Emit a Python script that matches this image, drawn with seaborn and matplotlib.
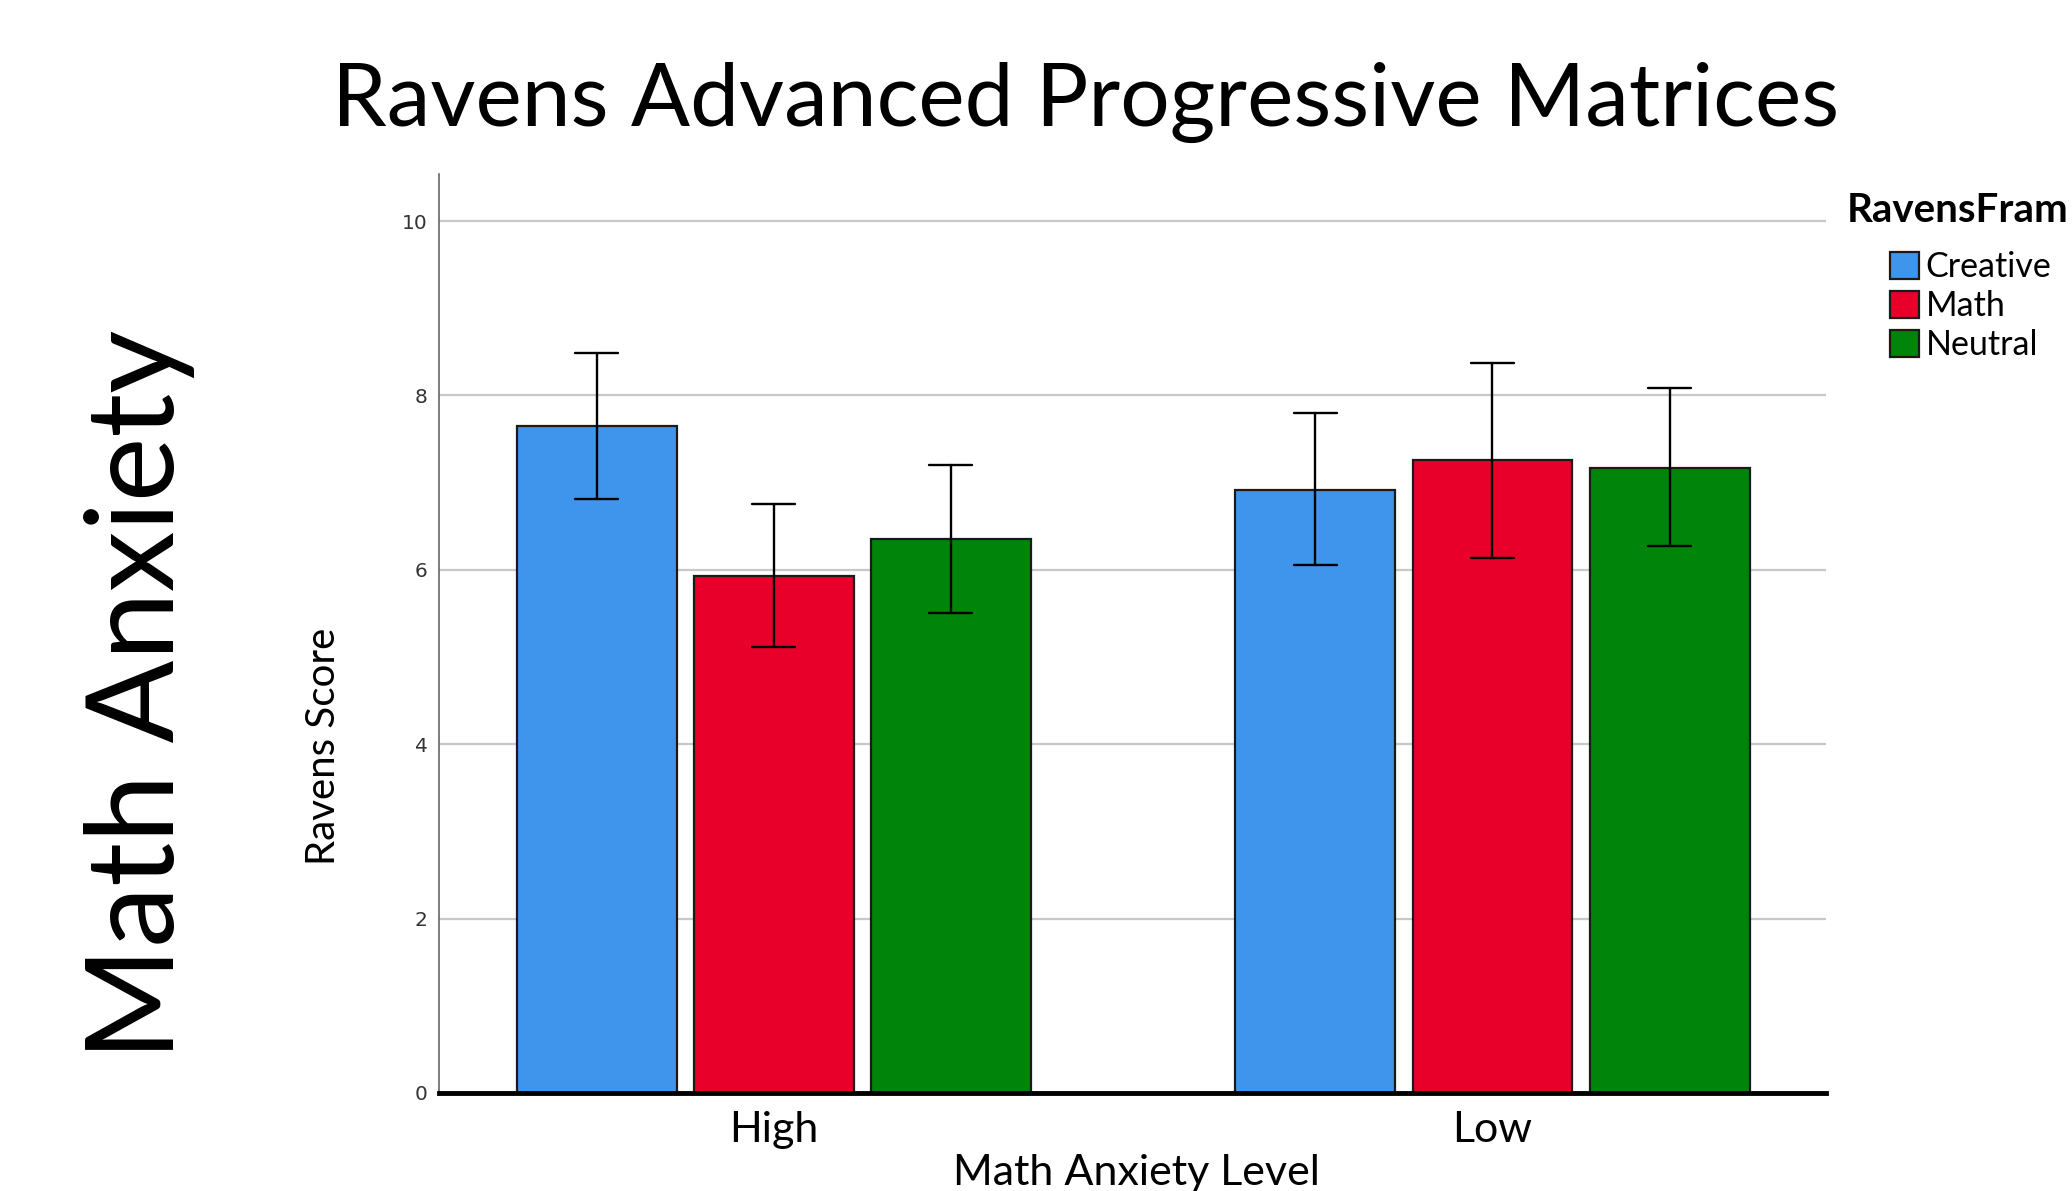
import numpy as np
import pandas as pd
import matplotlib
matplotlib.use("Agg")
import matplotlib.pyplot as plt
import seaborn as sns

sns.set_style("white")
plt.rcParams["font.family"] = ["Lato", "DejaVu Sans"]
plt.rcParams["text.color"] = "black"
plt.rcParams["axes.labelcolor"] = "black"
plt.rcParams["xtick.color"] = "black"

# values
levels = ["High", "Low"]
frames = ["Creative", "Math", "Neutral"]
mean_high = [7.65, 5.93, 6.35]
mean_low = [6.92, 7.26, 7.17]
ci_low_high = [6.81, 5.12, 5.51]
ci_up_high = [8.49, 6.75, 7.20]
ci_low_low = [6.06, 6.14, 6.27]
ci_up_low = [7.80, 8.37, 8.08]

FRAME_PALETTE = {"Creative": "#3f95eb", "Math": "#e8002a", "Neutral": "#008409"}

# one row per bound + mean; median picks the mean, min/max give the interval
rows = []
for level, means, lows, ups in [("High", mean_high, ci_low_high, ci_up_high),
                                ("Low", mean_low, ci_low_low, ci_up_low)]:
    for frame, m, lo, up in zip(frames, means, lows, ups):
        for v in (lo, m, up):
            rows.append({"level": level, "frame": frame, "score": v})
df = pd.DataFrame(rows)

fig = plt.figure(figsize=(20.72, 11.91), dpi=100)
ax = fig.add_axes([0.2117, 0.0823, 0.6696, 0.7716])

sns.barplot(
    data=df, x="level", y="score", hue="frame",
    order=levels, hue_order=frames, palette=FRAME_PALETTE,
    estimator="median", errorbar=lambda v: (v.min(), v.max()),
    width=0.739, gap=0.097, capsize=0.18,
    edgecolor="#1a1a1a", linewidth=1.6, saturation=1,
    err_kws={"color": "black", "linewidth": 1.7},
    ax=ax,
)

ax.set_xlim(-0.466, 1.464)
ax.set_ylim(0, 10.54)
ax.set_yticks([0, 2, 4, 6, 8, 10])
ax.yaxis.grid(True, color="#c8c8c8", linewidth=1.6)
ax.set_axisbelow(True)
for side in ("top", "right"):
    ax.spines[side].set_visible(False)
ax.spines["left"].set_color("#666666")
ax.spines["left"].set_linewidth(1.2)
ax.spines["bottom"].set_color("black")
ax.spines["bottom"].set_linewidth(3.5)

ax.tick_params(axis="y", length=0, pad=8, labelsize=14.5, labelcolor="#333333")
for lab in ax.get_yticklabels():
    lab.set_family("DejaVu Sans")
ax.tick_params(axis="x", length=0, pad=13, labelsize=31)

ax.set_xlabel("Math Anxiety Level", fontsize=31)
ax.xaxis.set_label_coords(0.503, -0.066)
ax.set_ylabel("Ravens Score", fontsize=29)
ax.yaxis.set_label_coords(-0.07, 0.377)

handles, labels = ax.get_legend_handles_labels()
ax.legend(
    handles, labels, loc="upper left", bbox_to_anchor=(0.912, 0.789),
    bbox_transform=fig.transFigure, frameon=False, fontsize=24.5,
    handlelength=0.85, handleheight=0.85, handletextpad=0.2,
    labelspacing=0.2, borderpad=0, borderaxespad=0,
)
# legend title as it shows in the reference (cut at the right edge there)
fig.text(0.8914, 0.8136, "RavensFram", fontsize=29, fontweight="bold",
         ha="left", va="baseline")

fig.text(0.5237, 0.8946, "Ravens Advanced Progressive Matrices",
         fontsize=63, ha="center", va="baseline")
fig.text(0.084, 0.4165, "Math Anxiety", fontsize=88, rotation=90,
         rotation_mode="anchor", ha="center", va="baseline")

fig.savefig("out.png", dpi=100)
